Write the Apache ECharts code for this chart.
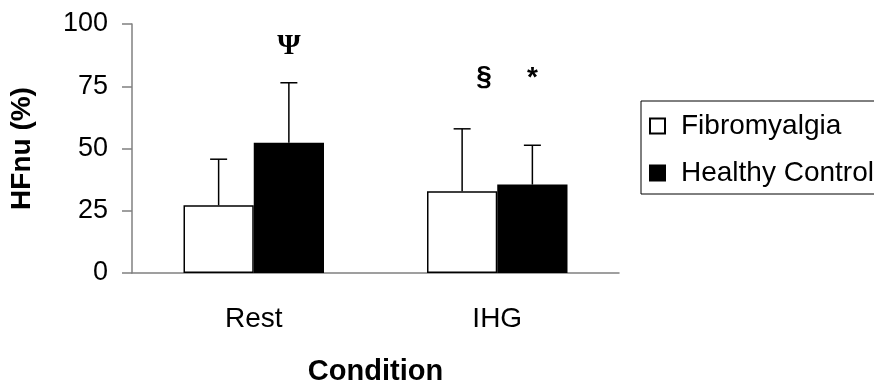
<!DOCTYPE html>
<html>
<head>
<meta charset="utf-8">
<script src="https://cdn.jsdelivr.net/npm/echarts@6/dist/echarts.min.js"></script>
<style>
  html, body { margin: 0; padding: 0; background: #fff; }
  #chart { width: 874px; height: 383px; }
</style>
</head>
<body>
<div id="chart"></div>
<script>
// categories and groups
var categories = ['Rest', 'IHG'];
var groupNames = ['Fibromyalgia', 'Healthy Control'];

// mean HFnu (%) and SD (upper error bar only)
var fibroMean = [27.2, 32.8];
var fibroSD = [18.5, 25.1];
var controlMean = [52.3, 35.5];
var controlSD = [24.1, 15.8];

// y axis ticks
var yTicks = [0, 25, 50, 75, 100];

// significance marks: text, category, which bar, y value
var markText = ['Ψ', '§', '*'];
var markCat = [0, 1, 1];
var markBar = [1, 0, 1];
var markY = [91.2, 78.8, 80.7];

var GAP = 0.423; // bar category gap
var FONT = 'Liberation Sans, Arial, sans-serif';

var chart = echarts.init(document.getElementById('chart'));

// center of a bar inside its category band
var barCenter = function(api, catIdx, barIdx){
    var band = api.size([1, 0])[0];
    var bw = band * (1 - GAP) / 2;
    var cx = api.coord([catIdx, 0])[0];
    return cx + (barIdx === 0 ? -bw / 2 : bw / 2);
};

var errorSeries = function(barIdx, means, sds){
    return {
        type: 'custom',
        name: groupNames[barIdx] + ' SD',
        z: 5,
        data: means.map(function(m, i){ return [i, m, sds[i]]; }),
        renderItem: function(params, api){
            var i = api.value(0);
            var x = barCenter(api, i, barIdx);
            var y0 = api.coord([i, api.value(1)])[1];
            var y1 = api.coord([i, api.value(1) + api.value(2)])[1];
            var st = { stroke: '#000', lineWidth: 1.5 };
            return {
                type: 'group',
                children: [
                    { type: 'line', shape: { x1: x, y1: y0, x2: x, y2: y1 }, style: st },
                    { type: 'line', shape: { x1: x - 8.5, y1: y1, x2: x + 8.5, y2: y1 }, style: st }
                ]
            };
        }
    };
};

var option = {
    animation: false,
    backgroundColor: '#fff',
    grid: { left: 132, right: 255, top: 24, bottom: 110, outerBoundsMode: 'none', containLabel: false },
    legend: {
        data: groupNames,
        orient: 'vertical',
        left: 641,
        top: 101,
        padding: [10, 30, 6, 8],
        itemGap: 17,
        itemWidth: 25,
        itemHeight: 15,
        icon: 'path://M0,0h15v15h-15z',
        symbolKeepAspect: true,
        borderColor: '#000',
        borderWidth: 1,
        textStyle: { fontFamily: FONT, fontSize: 28, color: '#000', lineHeight: 30, padding: [0, 0, 0, 6] }
    },
    xAxis: {
        type: 'category',
        data: categories,
        name: 'Condition',
        nameLocation: 'middle',
        nameGap: 84,
        nameTextStyle: { fontFamily: FONT, fontSize: 29, fontWeight: 'bold', color: '#000' },
        axisLine: { lineStyle: { color: '#808080', width: 1.5 } },
        axisTick: { length: 10, lineStyle: { color: '#808080', width: 1.5 } },
        axisLabel: { margin: 32, fontFamily: FONT, fontSize: 28, color: '#000' }
    },
    yAxis: {
        type: 'value',
        min: yTicks[0],
        max: yTicks[yTicks.length - 1],
        interval: yTicks[1] - yTicks[0],
        name: 'HFnu (%)',
        nameLocation: 'middle',
        nameGap: 96,
        nameRotate: 90,
        nameTextStyle: { fontFamily: FONT, fontSize: 28, fontWeight: 'bold', color: '#000' },
        axisLine: { show: true, lineStyle: { color: '#808080', width: 1.5 } },
        axisTick: { show: true, length: 10, lineStyle: { color: '#808080', width: 1.5 } },
        axisLabel: { margin: 24, fontFamily: FONT, fontSize: 27, color: '#000' },
        splitLine: { show: false }
    },
    series: [
        {
            name: groupNames[0],
            type: 'bar',
            data: fibroMean,
            barGap: '0%',
            barCategoryGap: (GAP * 100) + '%',
            itemStyle: { color: '#fff', borderColor: '#000', borderWidth: 1.5 }
        },
        {
            name: groupNames[1],
            type: 'bar',
            data: controlMean,
            barGap: '0%',
            barCategoryGap: (GAP * 100) + '%',
            itemStyle: { color: '#000', borderColor: '#000', borderWidth: 1.5 }
        },
        errorSeries(0, fibroMean, fibroSD),
        errorSeries(1, controlMean, controlSD),
        {
            type: 'custom',
            name: 'marks',
            z: 6,
            data: markText.map(function(t, i){ return [markCat[i], markY[i], i]; }),
            renderItem: function(params, api){
                var k = api.value(2);
                var x = barCenter(api, api.value(0), markBar[k]);
                if (markText[k] === '§') x += 22;
                var y = api.coord([api.value(0), api.value(1)])[1];
                var isPsi = markText[k] === 'Ψ';
                return {
                    type: 'text',
                    x: x,
                    y: y + (markText[k] === '*' ? 6 : 0),
                    style: {
                        text: markText[k],
                        fill: '#000',
                        fontFamily: isPsi ? 'Liberation Serif, Times New Roman, serif' : FONT,
                        fontWeight: 'bold',
                        fontSize: isPsi ? 30 : 28,
                        align: 'center',
                        verticalAlign: 'middle'
                    }
                };
            }
        }
    ]
};

chart.setOption(option);
</script>
</body>
</html>
